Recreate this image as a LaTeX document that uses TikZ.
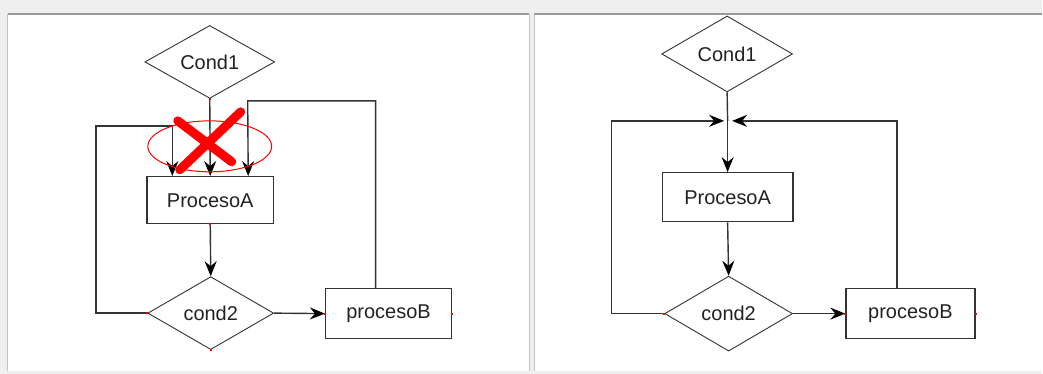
\documentclass[tikz,border=0pt]{standalone}
\usepackage{fontspec}
\setmainfont{Liberation Sans}
\usetikzlibrary{shapes.geometric,arrows.meta}

\definecolor{panelgray}{HTML}{EFEFEF}
\definecolor{edgegray}{HTML}{9A9A9A}
\definecolor{linegray}{HTML}{333333}
\definecolor{textgray}{HTML}{222222}

\begin{document}
\begin{tikzpicture}[x=1pt,y=-1pt]
        \tikzstyle{d} = [diamond, draw=linegray, line width=0.9pt, inner sep=0pt, aspect=1.8, text=textgray, font=\fontsize{20}{24}\selectfont]
        \tikzstyle{b} = [rectangle, draw=linegray, line width=1.4pt, inner sep=0pt, text=textgray, font=\fontsize{20}{24}\selectfont]
        \tikzstyle{e} = [draw=linegray, line width=1.4pt]
        \tikzstyle{a} = [e, -{Stealth[black, length=15pt, width=12pt, inset=5pt]}]
        \tikzstyle{pin} = [fill=red, inner sep=0pt, minimum size=2pt]

        % panels
        \fill[panelgray] (0,0) rectangle (1043,374);
        \fill[white] (8,14) rectangle (530,371);
        \fill[white] (535,14) rectangle (1043,371);
        \draw[edgegray!60, line width=1pt] (8,371) -- (8,14) (530,14) -- (530,371) (535,371) -- (535,14);
        \draw[edgegray, line width=2.5pt] (8,14) -- (530,14) (535,14) -- (1043,14);

        % left: wrong way
        \node[d, minimum width=130pt, minimum height=73pt](c1L) at (210,62){Cond1};
        \node[b, minimum width=127pt, minimum height=47pt](pAL) at (210.5,200.5){ProcesoA};
        \node[d, minimum width=126pt, minimum height=73pt](c2L) at (211,313.5){cond2};
        \node[b, minimum width=126pt, minimum height=50pt](pBL) at (389,314){procesoB};
        \coordinate (lL) at (96,126);
        \coordinate (rL) at (248,101);

        \draw[a](c1L.south) -- (pAL.north);
        \draw[a](pAL.south) -- (c2L.north);
        \draw[a](c2L.east) -- (pBL.west);
        \draw[a](c2L.west) -| (lL) -| ([xshift=-38pt]pAL.north);
        \draw[a]([xshift=-13pt]pBL.north) |- (rL) -- ([xshift=38pt]pAL.north);

        \draw[red, line width=1pt] (210,146.5) ellipse [x radius=62pt, y radius=25.5pt];
        \draw[red, line width=9pt, line cap=round] (178,121) -- (232,162);
        \draw[red, line width=9pt, line cap=round] (241,112) -- (180,170);

        % right: right way
        \node[d, minimum width=131pt, minimum height=76pt](c1R) at (728,54){Cond1};
        \node[b, minimum width=131pt, minimum height=49pt](pAR) at (728.5,197.5){ProcesoA};
        \node[d, minimum width=128pt, minimum height=75pt](c2R) at (729.5,314){cond2};
        \node[b, minimum width=129pt, minimum height=50pt](pBR) at (911.5,314){procesoB};
        \coordinate (jR) at (728.5,121);
        \coordinate (lR) at (612,121);

        \draw[e](c1R.south) -- (jR);
        \draw[a](jR) -- (pAR.north);
        \draw[a](pAR.south) -- (c2R.north);
        \draw[a](c2R.east) -- (pBR.west);
        \draw[a](c2R.west) -| (lR) -- ([xshift=-3.5pt]jR);
        \draw[a]([xshift=-13.5pt]pBR.north) |- ([xshift=4.5pt]jR);

        % anchor marks
        \node[pin](m1) at (c1L.south){};
        \node[pin](m2) at (c2L.west){};
        \node[pin](m3) at (c2L.south){};
        \node[pin](m4) at (pBL.west){};
        \node[pin](m5) at (pBL.east){};
        \node[pin](m6) at (pAL.south){};
        \node[pin](m7) at (c2R.west){};
        \node[pin](m8) at (pBR.west){};
        \node[pin](m9) at (pBR.east){};
    \end{tikzpicture}
\end{document}
